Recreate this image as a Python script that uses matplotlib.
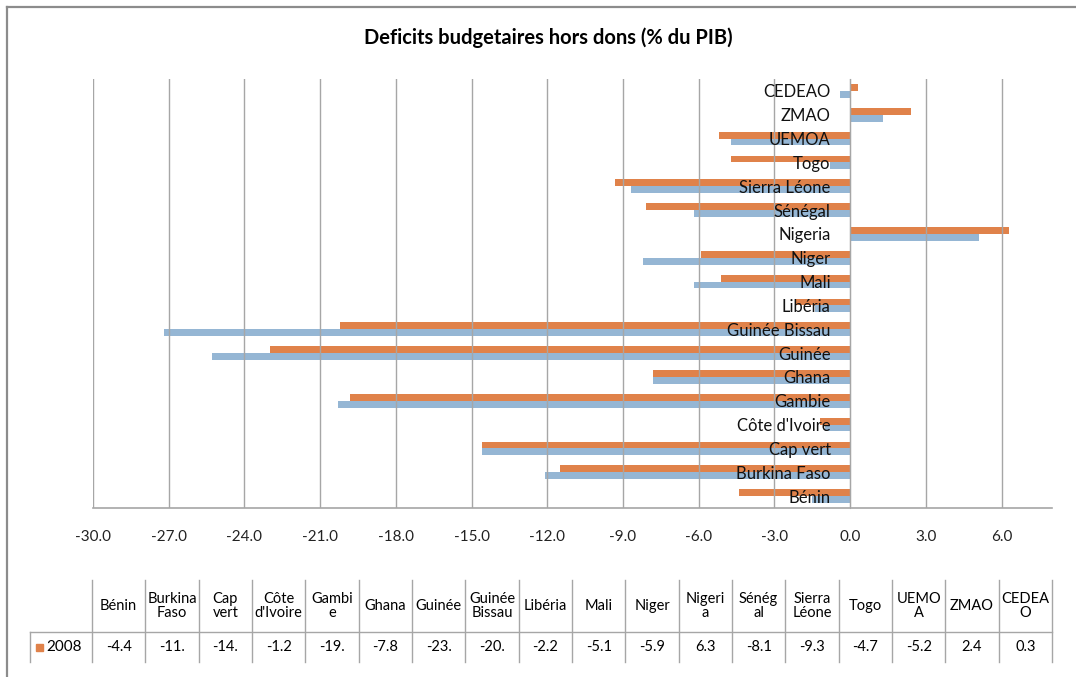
"""
Deficits budgetaires hors dons (% du PIB) - barres horizontales + table de donnees.
"""
import matplotlib
matplotlib.use("Agg")
import matplotlib.pyplot as plt
from matplotlib.lines import Line2D
from matplotlib.patches import Rectangle

plt.rcParams["font.family"] = ["Lato", "DejaVu Sans"]

TITLE = "Deficits budgetaires hors dons (% du PIB)"

# categories, bottom to top as drawn
categories = [
    "Bénin", "Burkina Faso", "Cap vert", "Côte d'Ivoire", "Gambie", "Ghana",
    "Guinée", "Guinée Bissau", "Libéria", "Mali", "Niger", "Nigeria",
    "Sénégal", "Sierra Léone", "Togo", "UEMOA", "ZMAO", "CEDEAO",
]
# wrapped headers as they appear in the data table
table_headers = [
    "Bénin", "Burkina\nFaso", "Cap\nvert", "Côte\nd'Ivoire", "Gambi\ne",
    "Ghana", "Guinée", "Guinée\nBissau", "Libéria", "Mali", "Niger",
    "Nigeri\na", "Sénég\nal", "Sierra\nLéone", "Togo", "UEMO\nA", "ZMAO",
    "CEDEA\nO",
]
values_2008 = [
    -4.4, -11.5, -14.6, -1.2, -19.8, -7.8, -23.0, -20.2, -2.2, -5.1, -5.9,
    6.3, -8.1, -9.3, -4.7, -5.2, 2.4, 0.3,
]
# second series (row not visible in the table)
values_other = [
    -1.5, -12.1, -14.6, -1.0, -20.3, -7.8, -25.3, -27.2, -1.4, -6.2, -8.2,
    5.1, -6.2, -8.7, -0.8, -4.7, 1.3, -0.4,
]
xticks = [-30, -27, -24, -21, -18, -15, -12, -9, -6, -3, 0, 3, 6]

ORANGE = "#E0824A"
BLUE = "#95B6D4"
GRID = "#A6A6A6"

W, H = 1076, 677
fig = plt.figure(figsize=(W / 100, H / 100), dpi=100)


def px(x0, y0, x1, y1):
    # pixel box (top-left origin) -> figure rect
    return [x0 / W, 1 - y1 / H, (x1 - x0) / W, (y1 - y0) / H]


# outer frame
fig.add_artist(Line2D([7 / W, 7 / W], [0, 1 - 7 / H], color="#8C8C8C", lw=1.6))
fig.add_artist(Line2D([7 / W, 1], [1 - 7 / H, 1 - 7 / H], color="#8C8C8C", lw=1.6))

fig.text(548 / W, 1 - 38 / H, TITLE, ha="center", va="center",
         fontsize=14.5, fontweight="bold")

ax = fig.add_axes(px(93, 79, 1052, 508))
# category axis crosses at 0 (set first: it resets the ticks)
ax.spines["left"].set_position(("data", 0))

pos = list(range(len(categories)))
h = 0.29
ax.barh([p + h / 2 for p in pos], values_2008, height=h, color=ORANGE, zorder=1)
ax.barh([p - h / 2 for p in pos], values_other, height=h, color=BLUE, zorder=1)

ax.set_xlim(-30, 8)
ax.set_ylim(-0.5, len(categories) - 0.5)
ax.set_xticks(xticks)
ax.set_xticklabels([f"{t:.1f}" for t in xticks])
ax.set_yticks(pos)
ax.set_yticklabels(categories)
ax.tick_params(axis="x", length=0, pad=16, colors="#222222", labelsize=11)
ax.tick_params(axis="y", length=0, pad=14, colors="#111111", labelsize=12)
ax.grid(axis="x", color=GRID, lw=1.0)
ax.axvline(-30, color=GRID, lw=1.2)
ax.spines["left"].set_color(GRID)
ax.spines["bottom"].set_color(GRID)
ax.spines["bottom"].set_linewidth(1.2)
ax.spines["top"].set_visible(False)
ax.spines["right"].set_visible(False)
for lab in ax.get_yticklabels():
    lab.set_zorder(5)

# data table
n = len(categories)
legend_w = 62 / ((1052 - 92) / n)
tax = fig.add_axes(px(30, 580, 1052, 662))
tax.set_xlim(-legend_w, n)
tax.set_ylim(0, 82)
tax.axis("off")
row_h = 30
line_kw = dict(color=GRID, lw=1.0, clip_on=False)

tax.plot([-legend_w, n], [row_h, row_h], **line_kw)
tax.plot([-legend_w, -legend_w], [0, row_h], **line_kw)
for i in range(n + 1):
    tax.plot([i, i], [0, 82], **line_kw)

for i, (hdr, v) in enumerate(zip(table_headers, values_2008)):
    tax.text(i + 0.5, (row_h + 82) / 2, hdr, ha="center", va="center",
             fontsize=10.5, linespacing=1.0)
    tax.text(i + 0.5, row_h / 2, f"{v:.1f}"[:4], ha="center", va="center",
             fontsize=10.5)

tax.add_patch(Rectangle((-legend_w + 0.11, row_h / 2 - 3.5), 0.13, 7,
                        color=ORANGE, clip_on=False))
tax.text(-legend_w + 0.3, row_h / 2, "2008", ha="left", va="center", fontsize=11)

fig.savefig("out.png", dpi=100)
plt.close(fig)
